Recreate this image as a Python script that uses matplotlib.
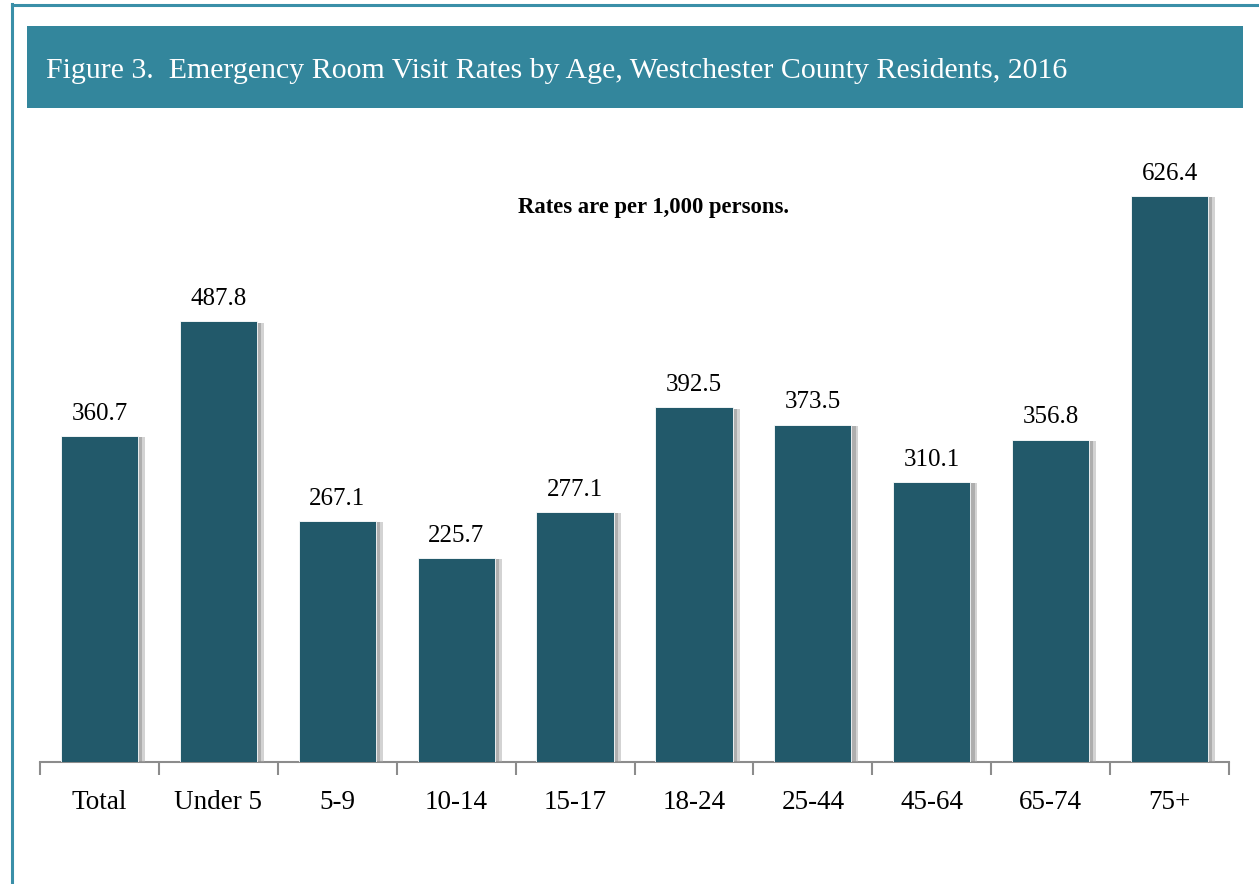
import matplotlib
matplotlib.use("Agg")
import matplotlib.pyplot as plt
import matplotlib.patheffects as pe
from matplotlib.patches import Rectangle
import numpy as np

categories = ["Total", "Under 5", "5-9", "10-14", "15-17", "18-24", "25-44", "45-64", "65-74", "75+"]
rates = [360.7, 487.8, 267.1, 225.7, 277.1, 392.5, 373.5, 310.1, 356.8, 626.4]
title = "Figure 3.  Emergency Room Visit Rates by Age, Westchester County Residents, 2016"
note = "Rates are per 1,000 persons."

W, H = 1259, 884
fig = plt.figure(figsize=(W / 100, H / 100), dpi=100)
fig.patch.set_facecolor("white")

serif = ["Liberation Serif", "DejaVu Serif"]

# outer border (left and top)
fig.add_artist(plt.Line2D([11.5 / W, 11.5 / W], [0, 1 - 4 / H], color="#3a8fa8", lw=2.2, transform=fig.transFigure))
fig.add_artist(plt.Line2D([11.5 / W, 1], [1 - 4.5 / H, 1 - 4.5 / H], color="#3a8fa8", lw=2.2, transform=fig.transFigure))

# title banner
fig.add_artist(Rectangle((27 / W, 1 - 108 / H), (1243 - 27) / W, (108 - 26) / H,
                         transform=fig.transFigure, facecolor="#33869c", edgecolor="none"))
fig.text(46 / W, 1 - 71 / H, title, color="white", fontsize=21.5, family=serif,
         va="center", ha="left")

ax = fig.add_axes([40 / W, 1 - 762 / H, (1229 - 40) / W, (762 - 129.5) / H])
x = np.arange(len(categories))
bars = ax.bar(x, rates, width=0.65, color="#22596a", edgecolor="white", linewidth=0.6, zorder=3)
for b in bars:
    b.set_path_effects([pe.SimplePatchShadow(offset=(5, -1), shadow_rgbFace="#a8a8a8", alpha=0.5),
                        pe.SimplePatchShadow(offset=(3, -1), shadow_rgbFace="#8a8a8a", alpha=0.5),
                        pe.Normal()])

for xi, v in zip(x, rates):
    ax.annotate(f"{v:.1f}", (xi, v), xytext=(0, 8), textcoords="offset points",
                ha="center", va="bottom", fontsize=18, family=serif, color="black")

ax.set_xlim(-0.5, len(categories) - 0.5)
ax.set_ylim(0, 700)
for s in ["top", "right", "left"]:
    ax.spines[s].set_visible(False)
ax.spines["bottom"].set_color("#8c8c8c")
ax.spines["bottom"].set_linewidth(1.5)
ax.set_yticks([])
ax.set_xticks(x)
ax.set_xticklabels(categories, family=serif, fontsize=19.5)
ax.tick_params(axis="x", which="major", length=0, pad=20)
ax.set_xticks(np.arange(-0.5, len(categories)), minor=True)
ax.tick_params(axis="x", which="minor", length=9, width=1.5, color="#8c8c8c", direction="out")

fig.text(654 / W, 1 - 207 / H, note, ha="center", va="center", fontsize=16.3, fontweight="bold",
         family=serif)

fig.savefig("out.png", dpi=100)
